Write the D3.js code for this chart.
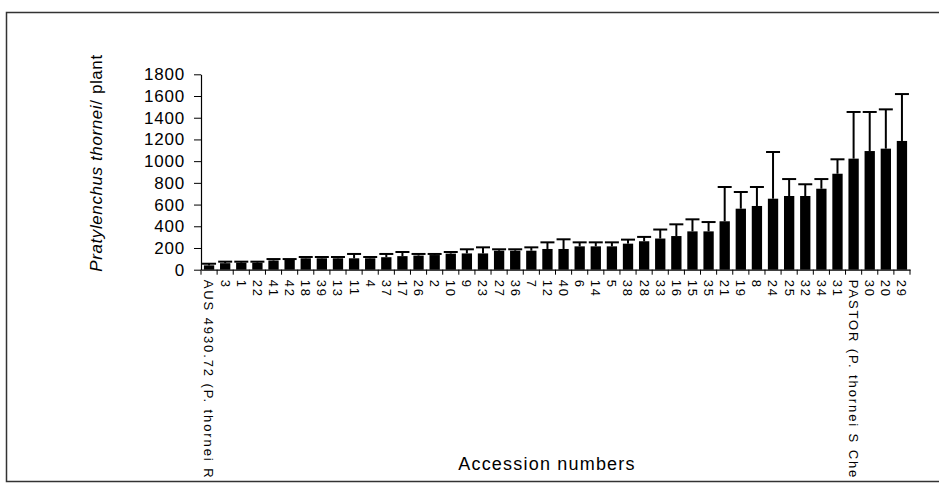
<!DOCTYPE html>
<html>
<head>
<meta charset="utf-8">
<script src="https://cdn.jsdelivr.net/npm/d3@7"></script>
<style>
  html, body { margin: 0; padding: 0; background: #fff; }
  svg { display: block; font-family: "Liberation Sans", Arial, sans-serif; }
</style>
</head>
<body>
<svg id="chart" width="939" height="487"></svg>
<script>
const categories = ["AUS 4930.72 (P. thornei R", "3", "1", "22", "41", "42", "18", "39", "13", "11", "4", "37", "17", "26", "2", "10", "9", "23", "27", "36", "7", "12", "40", "6", "14", "5", "38", "28", "33", "16", "15", "35", "21", "19", "8", "24", "25", "32", "34", "31", "PASTOR (P. thornei S Che", "30", "20", "29"];
const means = [40, 60, 65, 65, 85, 90, 105, 105, 105, 105, 105, 115, 125, 130, 135, 148, 150, 150, 175, 175, 175, 191, 191, 215, 215, 215, 240, 262, 287, 310, 353, 353, 446, 562, 587, 654, 679, 679, 746, 884, 1023, 1093, 1115, 1186];
const errors = [15, 14, 9, 9, 13, 8, 12, 12, 12, 40, 12, 30, 38, 15, 10, 15, 38, 56, 13, 13, 31, 61, 89, 37, 37, 37, 37, 40, 83, 108, 111, 86, 316, 154, 175, 430, 156, 108, 89, 133, 430, 360, 362, 432];
const yTicks = [0, 200, 400, 600, 800, 1000, 1200, 1400, 1600, 1800];
const yTitleItalic = "Pratylenchus thornei";
const yTitleRest = "/ plant";
const xTitle = "Accession numbers";

const svg = d3.select("#chart");
const W = 939, H = 487;
const x0 = 201, x1 = 910, y0 = 269.7, yTop = 74.3;

const x = d3.scaleBand().domain(categories).range([x0, x1]).padding(0);
const y = d3.scaleLinear().domain([0, 1800]).range([y0, yTop]);
const bw = x.bandwidth();

// outer border
svg.append("rect").attr("x", 6.5).attr("y", 12.5).attr("width", 945).attr("height", 469)
  .attr("fill", "none").attr("stroke", "#333").attr("stroke-width", 1.5);

// bars
const data = categories.map((c, i) => ({ c, m: means[i], e: errors[i] }));
svg.append("g").selectAll("rect").data(data).join("rect")
  .attr("x", d => x(d.c) + bw * 0.18)
  .attr("width", bw * 0.64)
  .attr("y", d => y(d.m))
  .attr("height", d => y(0) - y(d.m))
  .attr("fill", "#000");

// error bars
const eg = svg.append("g").attr("stroke", "#000").attr("stroke-width", 2);
eg.selectAll("line.stem").data(data).join("line").attr("class", "stem")
  .attr("x1", d => x(d.c) + bw / 2).attr("x2", d => x(d.c) + bw / 2)
  .attr("y1", d => y(d.m)).attr("y2", d => y(d.m + d.e));
eg.selectAll("line.cap").data(data).join("line").attr("class", "cap")
  .attr("x1", d => x(d.c) + bw / 2 - 7).attr("x2", d => x(d.c) + bw / 2 + 7)
  .attr("y1", d => y(d.m + d.e)).attr("y2", d => y(d.m + d.e));

// y axis
const ya = svg.append("g").attr("transform", `translate(${x0},0)`)
  .call(d3.axisLeft(y).tickValues(yTicks).tickFormat(d3.format("d")).tickSize(7).tickPadding(9).tickSizeOuter(0));
ya.select(".domain").attr("stroke", "#000").attr("stroke-width", 1.2);
ya.selectAll(".tick line").attr("stroke", "#000");
ya.selectAll(".tick text").attr("font-size", 17).attr("fill", "#000")
  .attr("font-family", "'Liberation Sans', Arial, sans-serif").style("letter-spacing", "0.8px");

// x axis
const xa = svg.append("g").attr("transform", `translate(0,${y0})`)
  .call(d3.axisBottom(x).tickSize(0).tickFormat(""));
xa.select(".domain").attr("stroke", "#000").attr("stroke-width", 1.2);
const bounds = categories.map(c => x(c)).concat([x1]);
svg.append("g").selectAll("line").data(bounds).join("line")
  .attr("x1", d => d).attr("x2", d => d)
  .attr("y1", y0).attr("y2", y0 + 5)
  .attr("stroke", "#000").attr("stroke-width", 1);

// x labels
svg.append("g")
  .selectAll("text").data(categories).join("text")
  .attr("transform", c => `translate(${x(c) + bw / 2},${y0 + 10}) rotate(90)`)
  .attr("dy", "0.35em")
  .attr("font-size", 13)
  .style("letter-spacing", "1.9px")
  .attr("fill", "#000")
  .text(c => c);

// y title
const yt = svg.append("text")
  .attr("transform", "translate(96,163) rotate(-90)")
  .attr("text-anchor", "middle")
  .attr("dy", "0.35em")
  .attr("font-size", 17)
  .style("letter-spacing", "0.6px")
  .attr("fill", "#000");
yt.append("tspan").attr("font-style", "italic").text(yTitleItalic);
yt.append("tspan").text(yTitleRest);

// x title
svg.append("text")
  .attr("x", 547).attr("y", 470)
  .attr("text-anchor", "middle")
  .attr("font-size", 18)
  .style("letter-spacing", "1.2px")
  .attr("fill", "#000")
  .text(xTitle);
</script>
</body>
</html>
